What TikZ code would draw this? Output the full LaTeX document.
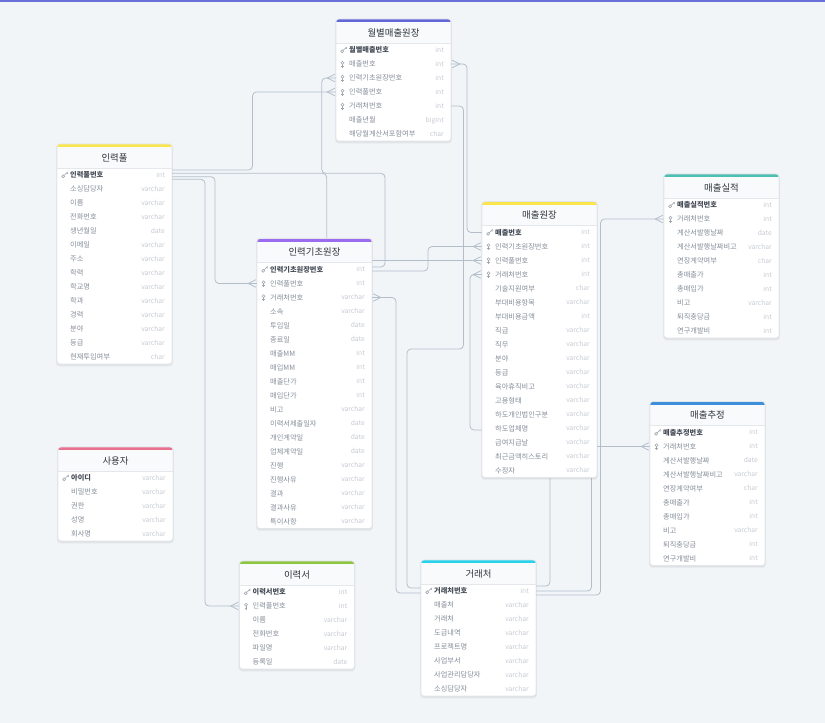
\documentclass[tikz,border=0pt]{standalone}
\usepackage{fontspec}
\setmainfont{Noto Sans CJK KR}
\usetikzlibrary{calc}
\pgfdeclarelayer{background}
\pgfdeclarelayer{lines}
\pgfsetlayers{background,lines,main}
\definecolor{bgc}{HTML}{F1F5F8}
\definecolor{topbarc}{HTML}{6B6FD9}
\definecolor{connc}{HTML}{B4BECB}
\definecolor{boxlinec}{HTML}{E2E6EB}
\definecolor{headbgc}{HTML}{F8FAFC}
\definecolor{sepc}{HTML}{E4E8ED}
\definecolor{fieldc}{HTML}{858D99}
\definecolor{pkc}{HTML}{454C57}
\definecolor{typec}{HTML}{C5CAD2}
\definecolor{titlec}{HTML}{2F353D}
\definecolor{iconc}{HTML}{A0A7B0}
\definecolor{barwol}{HTML}{6466D8}
\definecolor{baryellow}{HTML}{FBE54D}
\definecolor{barpurple}{HTML}{9B6CF0}
\definecolor{barteal}{HTML}{4CBFB0}
\definecolor{barblue}{HTML}{3D8FDC}
\definecolor{barpink}{HTML}{E8718F}
\definecolor{bargreen}{HTML}{8DC641}
\definecolor{barcyan}{HTML}{2AD1EA}
\tikzset{
  conn/.style={draw=connc, line width=0.8pt, rounded corners=4pt},
  crowline/.style={draw=connc, line width=0.8pt},
  rowbox/.style={minimum width=115pt, minimum height=14pt, inner sep=0pt, draw=none},
  tabbox/.style={minimum width=115pt, inner sep=0pt, draw=none},
  titlefont/.style={font=\fontsize{9.4}{11}\selectfont, text=titlec, inner sep=0pt},
  p-text/.style={font=\fontsize{7.2}{8}\selectfont\bfseries, text=pkc, inner sep=0pt},
  f-text/.style={font=\fontsize{7.2}{8}\selectfont, text=fieldc, inner sep=0pt},
  n-text/.style={font=\fontsize{7.2}{8}\selectfont, text=fieldc, inner sep=0pt},
  typetext/.style={font=\fontsize{6.7}{8}\selectfont, text=typec, inner sep=0pt},
  iconline/.style={draw=iconc, line width=0.6pt},
  p-icon/.pic={
    \draw[iconline] (6.2,1.3) circle (1.5pt);
    \draw[iconline] (7.3,0.2) -- (10.9,-3.2);
    \draw[iconline] (9.8,-2.2) -- (10.8,-1.2);
  },
  f-icon/.pic={
    \draw[iconline] (6.5,-1.3) circle (1.5pt);
    \draw[iconline] (6.5,0.2) -- (6.5,3.6);
    \draw[iconline] (5.3,2.1) -- (7.7,2.1);
  },
  n-icon/.pic={}
}
% #1 id, #2 left x, #3 top y, #4 number of rows, #5 bar colour, #6 title, #7 rows
\newcommand{\erdtable}[7]{%
  \pgfmathsetmacro{\tabH}{24+14*#4}
  \fill[black, opacity=0.035, rounded corners=4pt] (#2-1.2,#3-0.3) rectangle ++(117.4,\tabH+3);
  \fill[black, opacity=0.04, rounded corners=3.5pt] (#2-0.5,#3+0.5) rectangle ++(116,\tabH+1.2);
  \node[tabbox, minimum height=\tabH pt, anchor=north west] (#1) at (#2,#3) {};
  \begin{scope}
    \clip[rounded corners=3pt] (#2,#3) rectangle ++(115,\tabH);
    \fill[white] (#2,#3) rectangle ++(115,\tabH);
    \fill[headbgc] (#2,#3) rectangle ++(115,24);
    \fill[#5] (#2,#3) rectangle ++(115,3);
  \end{scope}
  \draw[sepc, line width=0.6pt] (#2,#3+24) -- ++(115,0);
  \draw[boxlinec, line width=0.6pt, rounded corners=3pt] (#2,#3) rectangle ++(115,\tabH);
  \node[titlefont] (#1-title) at (#2+57.5,#3+13.5) {#6};
  \foreach \rk/\rn/\rt [count=\ri] in {#7} {
    \pgfmathsetmacro{\yc}{#3+31+14*(\ri-1)}
    \node[rowbox] (#1-\ri) at (#2+57.5,\yc) {};
    \pic at (#2,\yc) {\rk-icon};
    \node[\rk-text, anchor=base west] (#1-\ri-name) at (#2+13,\yc+2.5) {\rn};
    \node[typetext, anchor=base east] (#1-\ri-type) at (#2+108,\yc+2.4) {\rt};
  }
}
\newcommand{\crowL}[1]{\draw[crowline] ([shift={(-1,-3.8)}]#1) -- ([shift={(-8.5,0)}]#1) -- ([shift={(-1,3.8)}]#1);}
\newcommand{\crowR}[1]{\draw[crowline] ([shift={(1,-3.8)}]#1) -- ([shift={(8.5,0)}]#1) -- ([shift={(1,3.8)}]#1);}
\begin{document}
\begin{tikzpicture}[x=1pt,y=-1pt]
\useasboundingbox (0,0) rectangle (825,723);
\begin{pgfonlayer}{background}
  \fill[bgc] (0,0) rectangle (825,723);
  \fill[topbarc] (0,0) rectangle (825,2);
\end{pgfonlayer}

\erdtable{wol}{336}{19}{7}{barwol}{월별매출원장}{p/월별매출번호/int,f/매출번호/int,f/인력기초원장번호/int,f/인력풀번호/int,f/거래처번호/int,n/매출년월/bigint,n/해당월계산서포함여부/char}

\erdtable{pool}{57}{144}{14}{baryellow}{인력풀}{p/인력풀번호/int,n/소싱담당자/varchar,n/이름/varchar,n/전화번호/varchar,n/생년월일/date,n/이메일/varchar,n/주소/varchar,n/학력/varchar,n/학교명/varchar,n/학과/varchar,n/경력/varchar,n/분야/varchar,n/등급/varchar,n/현재투입여부/char}

\erdtable{base}{257}{238.5}{19}{barpurple}{인력기초원장}{p/인력기초원장번호/int,f/인력풀번호/int,f/거래처번호/varchar,n/소속/varchar,n/투입일/date,n/종료일/date,n/매출MM/int,n/매입MM/int,n/매출단가/int,n/매입단가/int,n/비고/varchar,n/이력서제출일자/date,n/개인계약일/date,n/업체계약일/date,n/진행/varchar,n/진행사유/varchar,n/결과/varchar,n/결과사유/varchar,n/특이사항/varchar}

\erdtable{sales}{482}{201.5}{18}{baryellow}{매출원장}{p/매출번호/int,f/인력기초원장번호/int,f/인력풀번호/int,f/거래처번호/int,n/기술지원여부/char,n/부대비용항목/varchar,n/부대비용금액/int,n/직급/varchar,n/직무/varchar,n/분야/varchar,n/등급/varchar,n/육아휴직비고/varchar,n/고용형태/varchar,n/하도개인법인구분/varchar,n/하도업체명/varchar,n/급여지급날/varchar,n/최근금액히스토리/varchar,n/수정자/varchar}

\erdtable{perf}{664}{174}{10}{barteal}{매출실적}{p/매출실적번호/int,f/거래처번호/int,n/계산서발행날짜/date,n/계산서발행날짜비고/varchar,n/연장계약여부/char,n/총매출가/int,n/총매입가/int,n/비고/varchar,n/퇴직충당금/int,n/연구개발비/int}

\erdtable{est}{650}{401.5}{10}{barblue}{매출추정}{p/매출추정번호/int,f/거래처번호/int,n/계산서발행날짜/date,n/계산서발행날짜비고/varchar,n/연장계약여부/char,n/총매출가/int,n/총매입가/int,n/비고/varchar,n/퇴직충당금/int,n/연구개발비/int}

\erdtable{user}{58}{447}{5}{barpink}{사용자}{p/아이디/varchar,n/비밀번호/varchar,n/권한/varchar,n/성명/varchar,n/회사명/varchar}

\erdtable{resume}{239.5}{561}{6}{bargreen}{이력서}{p/이력서번호/int,f/인력풀번호/int,n/이름/varchar,n/전화번호/varchar,n/파일명/varchar,n/등록일/date}

\erdtable{client}{421}{560}{8}{barcyan}{거래처}{p/거래처번호/int,n/매출처/varchar,n/거래처/varchar,n/도급내역/varchar,n/프로젝트명/varchar,n/사업부서/varchar,n/사업관리담당자/varchar,n/소싱담당자/varchar}

\begin{pgfonlayer}{lines}
  % 매출원장.매출번호 -> 월별매출원장.매출번호
  \draw[conn] (sales-1.west) -- (467,232.5) |- (wol-2.east);
  \crowR{wol-2.east}
  % 인력기초원장.인력기초원장번호 -> 월별매출원장.인력기초원장번호
  \draw[conn] (wol-3.west) -- (321.7,78) |- (385,173.3) |- ([yshift=2.5pt]base-1.east);
  \crowL{wol-3.west}
  % 인력풀 -> 월별매출원장.인력풀번호
  \draw[conn] ([yshift=5pt]pool-1.east) -| (252.5,92) -- (wol-4.west);
  \crowL{wol-4.west}
  % 인력풀 -> 매출원장.인력풀번호
  \draw[conn] ([yshift=1.7pt]pool-1.east) -| (326.7,260.5) -- (sales-3.west);
  \crowL{sales-3.west}
  % 인력풀 -> 인력기초원장.인력풀번호
  \draw[conn] ([yshift=-1.7pt]pool-1.east) -| (215,283.5) -- (base-2.west);
  \crowL{base-2.west}
  % 인력풀 -> 이력서.인력풀번호
  \draw[conn] ([yshift=-4.3pt]pool-1.east) -| (205,606) -- (resume-2.west);
  \crowL{resume-2.west}
  % 인력기초원장.인력기초원장번호 -> 매출원장.인력기초원장번호
  \draw[conn] ([yshift=-1.5pt]base-1.east) -- (428,271) |- (sales-2.west);
  \crowL{sales-2.west}
  % 거래처 -> 인력기초원장.거래처번호
  \draw[conn] (base-3.east) -- (396,297.5) |- ([yshift=-2pt]client-1.west);
  \crowR{base-3.east}
  % 거래처 -> 월별매출원장.거래처번호
  \draw[conn] (wol-5.east) -- (463.5,106) |- (407,349) |- ([yshift=3pt]client-1.west);
  % 거래처 -> 매출원장.거래처번호
  \draw[conn] (sales-4.west) -- (470,274.5) |- (550,430) |- ([yshift=5pt]client-1.east);
  \crowL{sales-4.west}
  % 거래처 -> 매출실적.거래처번호
  \draw[conn] (perf-2.west) -- (600.5,219) |- ([yshift=-4pt]client-1.east);
  \crowL{perf-2.west}
  % 거래처 -> 매출추정.거래처번호
  \draw[conn] (est-2.west) -- (591.5,446.5) |- (client-1.east);
  \crowL{est-2.west}
\end{pgfonlayer}
\end{tikzpicture}
\end{document}
